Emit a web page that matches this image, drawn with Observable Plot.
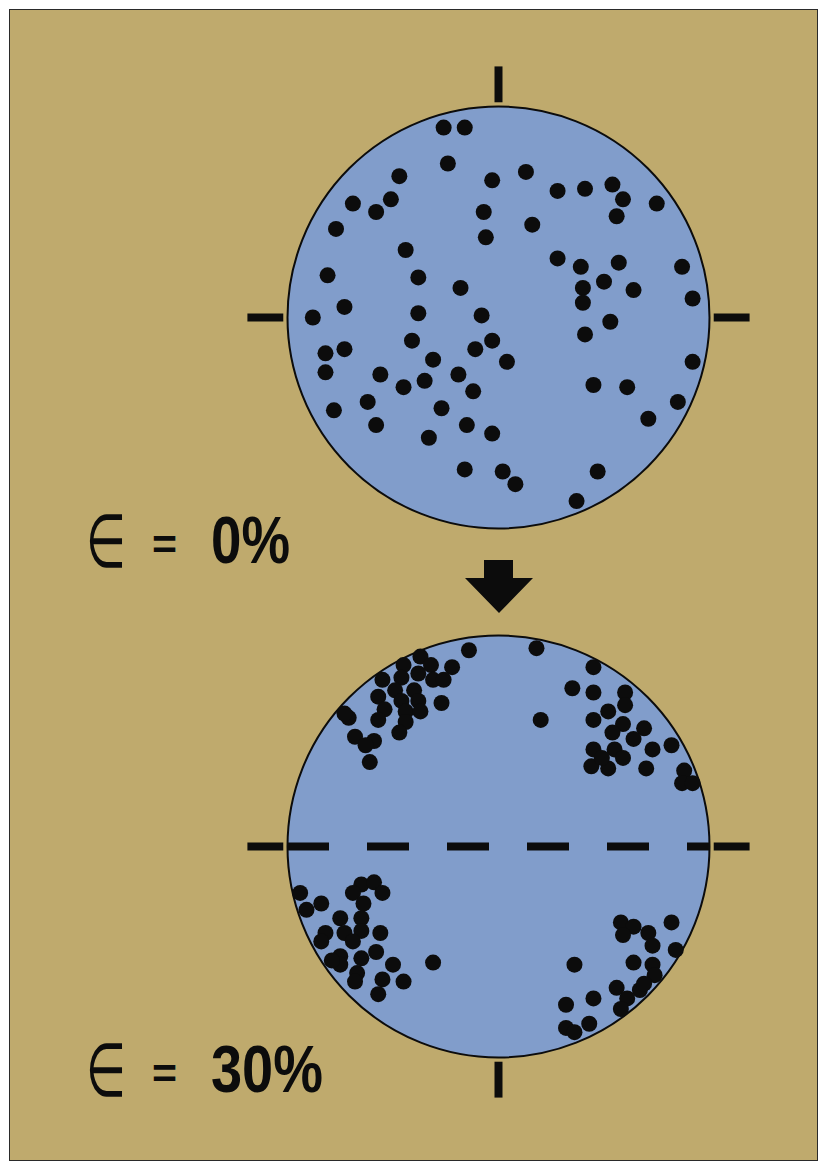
<!DOCTYPE html>
<html>
<head>
<meta charset="utf-8">
<script src="https://cdn.jsdelivr.net/npm/d3@7"></script>
<script src="https://cdn.jsdelivr.net/npm/@observablehq/plot@0.6"></script>
<style>
  html, body { margin: 0; padding: 0; background: #ffffff; }
  #page { position: relative; width: 819px; height: 1162px; overflow: hidden; }
  #panel { position: absolute; left: 9px; top: 9px; width: 807px; height: 1150px;
           background: #bfaa6d; border: 1px solid #2a2a2a; }
  #chart { position: absolute; left: 0; top: 0; }
</style>
</head>
<body>
<div id="page">
  <div id="panel"></div>
  <div id="chart"></div>
</div>
<script>
// Pole positions on the net, in percent of the net radius (x = east, y = north)
const polesUndeformed = [
  [-26,90],[-16,90],[-24,73],[-47,67],[-3,65],[-69,54],[-51,56],[-58,50],[-7,50],[-77,42],
  [-6,38],[-44,32],[-81,20],[-38,19],[-18,14],[-73,5],[-88,0],[-38,2],[-8,1],[13,69],
  [28,60],[41,61],[54,63],[59,56],[56,48],[75,54],[16,44],[28,28],[39,24],[57,26],
  [50,17],[40,14],[40,7],[64,13],[87,24],[92,9],[-41,-11],[-73,-15],[-82,-17],[-82,-26],
  [-11,-15],[-3,-11],[-31,-20],[-56,-27],[-19,-27],[-35,-30],[-45,-33],[-12,-35],[-62,-40],[-78,-44],
  [-27,-43],[-58,-51],[-15,-51],[-3,-55],[-33,-57],[-16,-72],[53,-2],[41,-8],[4,-21],[92,-21],
  [45,-32],[61,-33],[85,-40],[71,-48],[2,-73],[8,-79],[47,-73],[37,-87]
];

const polesStrained = [
  // north-west cluster
  [-14,93],[-37,90],[-45,86],[-32,86],[-22,85],[-55,79],[-46,80],[-38,82],[-31,79],[-26,79],
  [-49,74],[-40,74],[-57,71],[-46,69],[-38,69],[-27,68],[-54,65],[-44,64],[-37,64],[-71,61],
  [-57,60],[-44,59],[-47,54],[-68,52],[-59,50],[-63,48],[-61,40],[-73,63],
  // north-east cluster
  [18,94],[45,85],[35,75],[45,73],[60,73],[60,67],[20,60],[45,60],[52,64],[59,58],
  [69,56],[54,54],[64,51],[45,46],[55,46],[73,46],[82,48],[59,42],[44,38],[52,37],
  [70,37],[88,36],[87,30],[92,30],[49,42],
  // south-west cluster
  [-94,-22],[-84,-27],[-91,-30],[-65,-18],[-59,-17],[-55,-22],[-69,-22],[-64,-27],[-75,-34],[-65,-34],
  [-56,-41],[-82,-41],[-73,-41],[-65,-40],[-84,-45],[-69,-45],[-75,-52],[-65,-53],[-58,-50],[-75,-56],
  [-67,-60],[-50,-56],[-68,-64],[-55,-63],[-45,-64],[-57,-70],[-31,-55],[-79,-54],
  // south-east cluster
  [82,-36],[58,-36],[64,-38],[59,-42],[71,-41],[73,-47],[84,-49],[64,-55],[73,-56],[74,-61],
  [36,-56],[56,-67],[67,-68],[61,-72],[58,-77],[45,-72],[32,-75],[32,-86],[36,-88],[43,-84],
  [69,-65]
];

// Strain state of each net, top to bottom
const strainLabels = ["0%", "30%"];

// Compass ticks drawn outside each net
const ticksUndeformed = ["N", "E", "W"];
const ticksStrained = ["E", "S", "W"];

// ---- layout ----
const W = 819, H = 1162;
const R = 211;            // net radius in px
const CX = 498;           // net centre x
const CY = 317;           // upper net centre y
const SHIFT = 529;        // vertical offset of the lower net
const tickFrom = 102, tickTo = 119;   // tick extent, percent of radius
const dirs = {N: [0, 1], E: [1, 0], S: [0, -1], W: [-1, 0]};

const ink = "#0c0c0c";
const netFill = "#819dcb";
const poleR = 8;

const tickLinks = (names) => names.map(n => ({
  x1: dirs[n][0] * tickFrom, y1: dirs[n][1] * tickFrom,
  x2: dirs[n][0] * tickTo,   y2: dirs[n][1] * tickTo
}));
const toPoints = (arr) => arr.map(([x, y]) => ({x, y}));
const centre = [{x: 0, y: 0}];

const plot = Plot.plot({
  width: W,
  height: H,
  x: {domain: [-100, 100], range: [CX - R, CX + R], axis: null},
  y: {domain: [-100, 100], range: [CY + R, CY - R], axis: null},
  style: {background: "transparent", overflow: "visible"},
  marks: [
    // upper net: undeformed
    Plot.dot(centre, {x: "x", y: "y", r: R, fill: netFill, stroke: ink, strokeWidth: 2}),
    Plot.link(tickLinks(ticksUndeformed), {x1: "x1", y1: "y1", x2: "x2", y2: "y2",
      stroke: ink, strokeWidth: 8}),
    Plot.dot(toPoints(polesUndeformed), {x: "x", y: "y", r: poleR, fill: ink}),

    // lower net: after 30% strain
    Plot.dot(centre, {x: "x", y: "y", r: R, fill: netFill, stroke: ink, strokeWidth: 2, dy: SHIFT}),
    Plot.link(tickLinks(ticksStrained), {x1: "x1", y1: "y1", x2: "x2", y2: "y2",
      stroke: ink, strokeWidth: 8, dy: SHIFT}),
    Plot.ruleY([0], {x1: -100, x2: 100, stroke: ink, strokeWidth: 8,
      strokeDasharray: "42,38", dy: SHIFT}),
    Plot.dot(toPoints(polesStrained), {x: "x", y: "y", r: poleR, fill: ink, dy: SHIFT})
  ]
});

const svg = d3.select(plot);
const x0 = plot.scale("x").apply(0);
const netBottom = plot.scale("y").apply(-100);
const nextTop = plot.scale("y").apply(100) + SHIFT;

// block arrow between the two nets
const aTop = netBottom + 32, aNeck = netBottom + 50, aTip = nextTop - 22;
svg.append("path")
  .attr("d", `M${x0 - 14},${aTop} H${x0 + 15} V${aNeck} H${x0 + 35} L${x0 + 1},${aTip} L${x0 - 33},${aNeck} H${x0 - 14} Z`)
  .attr("fill", ink);

// strain labels
strainLabels.forEach((label, i) => {
  const base = 563 + i * SHIFT;
  const g = svg.append("g").attr("fill", ink).attr("text-anchor", "start");
  g.append("text")
    .attr("x", 86).attr("y", base + 4)
    .attr("font-family", "DejaVu Sans, sans-serif")
    .attr("font-size", 74)
    .attr("textLength", 40)
    .attr("lengthAdjust", "spacingAndGlyphs")
    .text("∈");
  g.append("text")
    .attr("x", 152).attr("y", base - 4)
    .attr("font-family", "Liberation Sans, Arial, sans-serif")
    .attr("font-weight", "bold")
    .attr("font-size", 42)
    .attr("textLength", 25)
    .attr("lengthAdjust", "spacingAndGlyphs")
    .text("=");
  g.append("text")
    .attr("x", 211).attr("y", base)
    .attr("font-family", "Liberation Sans, Arial, sans-serif")
    .attr("font-weight", "bold")
    .attr("font-size", 66)
    .attr("textLength", label.length === 2 ? 79 : 112)
    .attr("lengthAdjust", "spacingAndGlyphs")
    .text(label);
});

document.getElementById("chart").appendChild(plot);
</script>
</body>
</html>
